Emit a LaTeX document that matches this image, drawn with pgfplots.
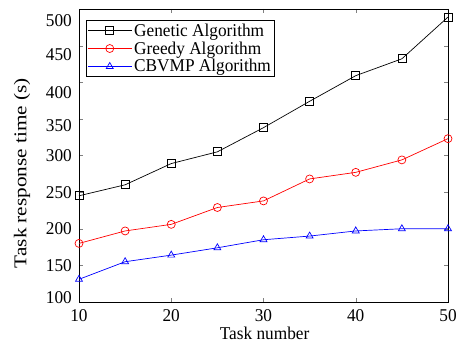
\documentclass[border=0pt]{standalone}
\usepackage{pgfplots}
\pgfplotsset{compat=1.18}
\usepackage{fontspec}
\setmainfont[FakeStretch=0.96]{Liberation Serif}
\newfontfamily\ylabfont[FakeStretch=1.18]{Liberation Serif}
\newcommand\sh[2]{\raisebox{#1}[\height][\depth]{#2}}
\begin{document}
\begin{tikzpicture}
\begin{axis}[
  name=main,
  scale only axis,
  width=369pt, height=293pt,
  xmin=10, xmax=50, ymin=100, ymax=500,
  xtick={10,20,30,40,50},
  ytick={100,150,200,250,300,350,400,450,500},
  yticklabels={{\sh{4pt}{100}},150,200,250,300,{\sh{-7pt}{350}},{\sh{-10pt}{400}},{\sh{-9pt}{450}},{\sh{-12pt}{500}}},
  tick align=inside,
  tick pos=both,
  major tick length=4pt,
  /pgf/number format/assume math mode=true,
  tick label style={font=\fontsize{18}{20}\selectfont},
  xticklabel style={anchor=center, yshift=-14pt, inner sep=0pt},
  yticklabel style={anchor=east, xshift=-7pt, inner sep=0pt},
  xlabel={Task number},
  ylabel={Task response time (s)},
  xlabel style={font=\fontsize{18}{20}\selectfont, at={(axis description cs:0.503,-0.108)}, anchor=center},
  ylabel style={font=\fontsize{18}{20}\ylabfont, at={(axis description cs:-0.154,0.44)}, anchor=center},
  axis line style={line width=0.8pt},
  legend style={at={(rel axis cs:0.019,0.962)}, anchor=north west,
    font=\fontsize{18}{20}\selectfont, draw=black, line width=0.8pt,
    inner sep=1pt, row sep=0pt, cells={anchor=west, inner sep=2pt}},
  legend image code/.code={%
    \draw[mark repeat=2,mark phase=2] plot coordinates {(0pt,0pt) (22pt,0pt) (44pt,0pt)};},
  every axis plot/.append style={line width=0.7pt, mark size=4pt, mark options={solid, fill=none}},
]
\addplot[black, mark=square] coordinates {
(10,245) (15,260) (20,289) (25,305) (30,338) (35,374) (40,409) (45,432) (50,489)};
\addlegendentry{Genetic Algorithm}
\addplot[red, mark=o] coordinates {
(10,180) (15,197) (20,206) (25,229) (30,238) (35,268) (40,277) (45,294) (50,323)};
\addlegendentry{Greedy Algorithm}
\addplot[blue, mark=triangle] coordinates {
(10,131) (15,155) (20,164) (25,174) (30,185) (35,190) (40,197) (45,200) (50,200)};
\addlegendentry{CBVMP Algorithm}
\end{axis}
\path (main.south west) ++(-79pt,-43pt) coordinate (bbA);
\path (main.north east) ++(9pt,9pt) coordinate (bbB);
\useasboundingbox (bbA) rectangle (bbB);
\end{tikzpicture}
\end{document}
